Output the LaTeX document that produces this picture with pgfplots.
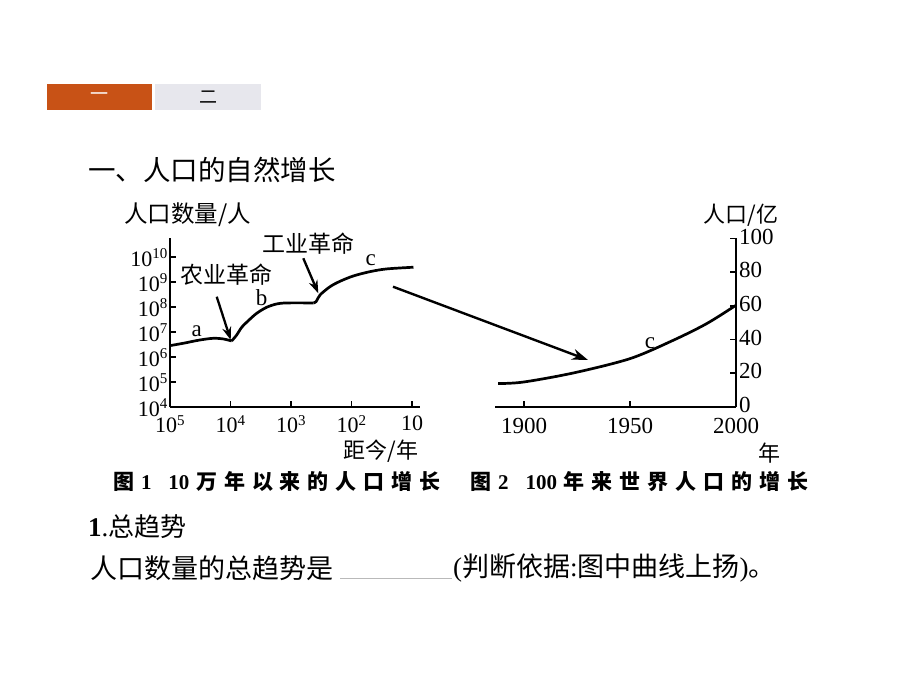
\documentclass[border=0pt]{standalone}
\usepackage{fontspec}
\setmainfont{Liberation Serif}
\newfontfamily\cjk{Noto Sans CJK SC}
\usepackage{pgfplots}
\pgfplotsset{compat=1.18}
\usetikzlibrary{arrows.meta}
\definecolor{taborange}{RGB}{200,82,22}
\definecolor{tabgray}{RGB}{231,231,237}
\newcommand\pw[1]{10\textsuperscript{\fontsize{15}{15}\selectfont #1}}
\begin{document}
\begin{tikzpicture}[x=1pt,y=1pt]
\useasboundingbox (0,0) rectangle (920,690);
\fill[white] (0,0) rectangle (920,690);
% tabs
\fill[taborange] (47,580) rectangle (152,606);
\fill[tabgray] (155,580) rectangle (261,606);
\node[white,font=\cjk\fontsize{18}{18}\selectfont] at (99.5,593) {一};
\node[font=\cjk\fontsize{18}{18}\selectfont] at (208,593) {二};
% title
\node[anchor=west,inner sep=0,font=\cjk\fontsize{27.5}{30}\selectfont] at (88,520) {一、人口的自然增长};

% left chart
\begin{axis}[at={(170pt,283pt)}, anchor=south west, scale only axis,
  width=250pt, height=169pt,
  xmin=0, xmax=4.13, ymin=4, ymax=10.77,
  axis x line*=bottom, axis y line*=left,
  axis line style={line width=1.9pt},
  tick style={line width=1.6pt,black},
  major tick length=6pt, tick align=inside,
  xtick={0,1,2,3,4},
  xticklabels={\pw{5},\pw{4},\pw{3},\pw{2},10},
  ytick={4,5,6,7,8,9,10},
  yticklabels={\pw{4},\pw{5},\pw{6},\pw{7},\pw{8},\pw{9},\pw{10}},
  tick label style={font=\fontsize{22}{22}\selectfont},
  yticklabel style={inner sep=1pt, xshift=-1pt, yshift=-0.5pt},
  xticklabel style={yshift=-5pt},
  clip=false]
\addplot[line width=2.7pt, smooth, tension=0.5] coordinates {
  (0,6.458) (0.22,6.553) (0.496,6.685) (0.716,6.752) (0.882,6.725) (1.019,6.645)};
\addplot[line width=2.7pt, smooth, tension=0.5] coordinates {
  (1.019,6.645) (1.102,6.886) (1.185,7.194) (1.295,7.46) (1.433,7.755) (1.598,7.996) (1.763,8.128) (1.928,8.168) (2.369,8.168)};
\addplot[line width=2.7pt, smooth, tension=0.5] coordinates {
  (2.369,8.168) (2.413,8.22) (2.479,8.489) (2.645,8.822) (2.81,9.037) (3.03,9.25) (3.306,9.423) (3.58,9.531) (4.022,9.599)};
\end{axis}

% right chart
\begin{axis}[at={(495pt,283pt)}, anchor=south west, scale only axis,
  width=241pt, height=168.5pt,
  xmin=1886.3, xmax=2000, ymin=0, ymax=100,
  axis x line*=bottom, axis y line*=right,
  axis line style={line width=1.9pt},
  tick style={line width=1.6pt,black},
  major tick length=6pt, tick align=inside,
  xtick={1900,1950,2000},
  ytick={0,20,40,60,80,100},
  /pgf/number format/1000 sep={},
  /pgf/number format/assume math mode=true,
  tick label style={font=\fontsize{23}{23}\selectfont},
  yticklabel style={inner sep=1pt, xshift=2pt, yshift=2pt},
  xticklabel style={yshift=-8pt},
  clip=false]
\addplot[line width=2.7pt, smooth] coordinates {
  (1887.8,13.9) (1899.7,14.8) (1923.3,20.2) (1950,28.7) (1970.4,39.6) (1986.2,49.5) (2000,60.4)};
\end{axis}

% chart annotations
\node[anchor=west,inner sep=0,font=\cjk\fontsize{23.5}{24}\selectfont] at (124,475) {人口数量/人};
\node[font=\cjk\fontsize{23}{23}\selectfont] at (226.7,415) {农业革命};
\node[font=\cjk\fontsize{23}{23}\selectfont] at (308.5,446.7) {工业革命};
\node[font=\fontsize{23}{23}\selectfont] at (196.7,358.3) {a};
\node[font=\fontsize{23}{23}\selectfont] at (261.7,392.7) {b};
\node[font=\fontsize{23}{23}\selectfont] at (370.7,430) {c};
\node[font=\fontsize{23}{23}\selectfont] at (650,347) {c};
\draw[line width=2.3pt,-{Stealth[length=13pt,width=9pt]}] (216.7,393.3) -- (230.7,350);
\draw[line width=2.3pt,-{Stealth[length=13pt,width=9pt]}] (303.3,431.7) -- (318.3,396.7);
\draw[line width=2.4pt,-{Stealth[length=16pt,width=11pt]}] (393,403.3) -- (588,330);
\node[font=\cjk\fontsize{22}{22}\selectfont] at (381,239) {距今/年};
\node[font=\cjk\fontsize{22}{22}\selectfont] at (741,475) {人口/亿};
\node[font=\cjk\fontsize{22}{22}\selectfont] at (769,237) {年};

% captions
\node[anchor=west,inner sep=0,font=\cjk\bfseries\fontsize{21}{21}\selectfont] at (113,208)
  {\makebox[327pt][s]{图\hfil{\rmfamily\bfseries 1}\hspace{10pt}\hfil{\rmfamily\bfseries 10}\hfil 万\hfil 年\hfil 以\hfil 来\hfil 的\hfil 人\hfil 口\hfil 增\hfil 长}};
\node[anchor=west,inner sep=0,font=\cjk\bfseries\fontsize{21}{21}\selectfont] at (470,208)
  {\makebox[338pt][s]{图\hfil{\rmfamily\bfseries 2}\hspace{10pt}\hfil{\rmfamily\bfseries 100}\hfil 年\hfil 来\hfil 世\hfil 界\hfil 人\hfil 口\hfil 的\hfil 增\hfil 长}};

% body text
\node[anchor=west,inner sep=0] at (88,163)
  {{\rmfamily\bfseries\fontsize{27}{27}\selectfont 1}{\rmfamily\fontsize{27}{27}\selectfont .}{\cjk\fontsize{26}{26}\selectfont 总趋势}};
\node[anchor=west,inner sep=0,font=\cjk\fontsize{27}{27}\selectfont] at (90,122) {人口数量的总趋势是};
\draw[gray!55, line width=0.8pt] (340,112) -- (452,112);
\node[anchor=west,inner sep=0,font=\cjk\fontsize{27}{27}\selectfont] at (453,122)
  {{\rmfamily(}判断依据{\rmfamily:}图中曲线上扬{\rmfamily)}。};
\end{tikzpicture}
\end{document}
